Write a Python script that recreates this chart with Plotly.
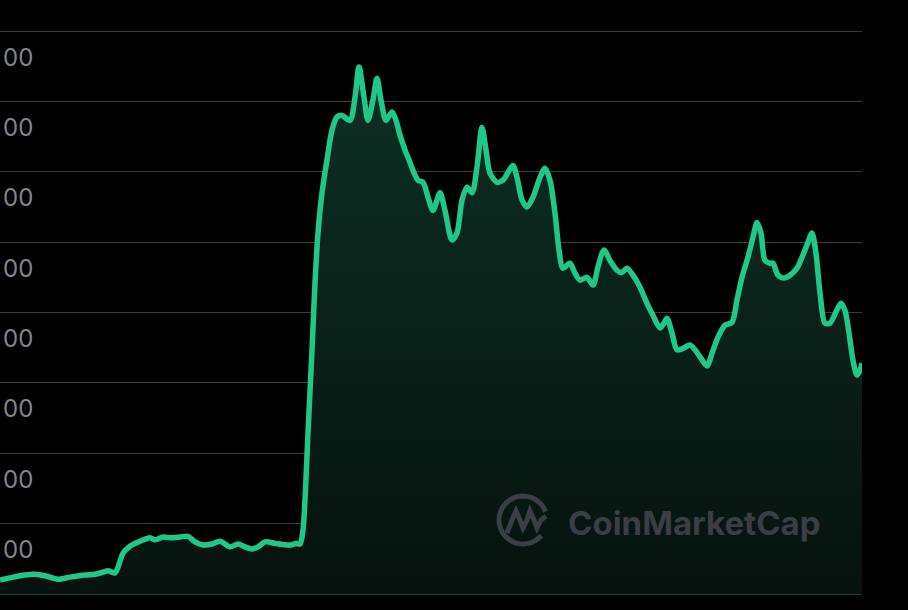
import math
import plotly.graph_objects as go

# ---- data (time index along x, price units along y) ----
t = [0, 10, 25, 35, 45, 58, 70, 85, 95, 103, 108, 115, 118, 123, 130, 140, 150, 155, 163, 170,
     180, 188, 195, 202, 212, 220, 230, 238, 245, 252, 258, 265, 275, 285, 292, 296, 300, 303, 305, 308,
     312, 315, 318, 322, 327, 332, 337, 342, 350, 355, 359, 364, 368, 373, 377, 381, 386, 392, 396, 400,
     405, 409, 413, 418, 423, 428, 433, 440, 445, 452, 457, 462, 467, 472, 477, 482, 486, 490, 497, 503,
     508, 513, 517, 522, 527, 533, 540, 545, 550, 555, 559, 563, 570, 575, 580, 587, 593, 598, 604, 610,
     617, 622, 627, 633, 640, 647, 653, 660, 664, 667, 672, 677, 683, 690, 695, 701, 707, 712, 718, 725,
     732, 737, 742, 748, 753, 757, 761, 765, 770, 773, 778, 784, 790, 797, 803, 808, 812, 816, 820, 825,
     830, 836, 841, 845, 849, 853, 857, 860, 862]
price = [20, 23, 27, 28, 26, 21, 24, 27, 28, 31, 33, 30, 38, 58, 68, 75, 80, 77, 81, 80,
         81, 82, 74, 70, 71, 75, 67, 71, 67, 64, 67, 74, 72, 70, 70, 72, 71, 91, 134, 229,
         347, 442, 513, 570, 617, 659, 678, 680, 673, 706, 749, 706, 673, 702, 733, 702, 673, 685, 673, 652,
         631, 617, 602, 588, 585, 564, 545, 570, 545, 503, 513, 560, 578, 570, 607, 663, 631, 598, 585, 588,
         599, 609, 592, 560, 550, 564, 592, 605, 588, 541, 489, 463, 470, 456, 446, 450, 439, 465, 489, 474,
         460, 457, 463, 453, 436, 413, 396, 378, 385, 392, 371, 347, 349, 354, 347, 335, 324, 342, 365, 382,
         386, 418, 450, 479, 507, 528, 513, 474, 470, 470, 453, 449, 453, 463, 482, 500, 513, 484, 428, 385,
         385, 401, 413, 403, 371, 332, 311, 318, 328]
grid_vals = [0, 100, 200, 300, 400, 500, 600, 700, 800]
tick_vals = [100, 200, 300, 400, 500, 600, 700, 800]
tick_text = ["00", "00", "00", "00", "00", "00", "00", "00"]  # visible part of the cropped labels

W, H = 908, 610
LINE = "#1fc886"
GRID = "#383b42"
LABEL = "#80858f"
MARK = "#3a3e45"

fig = go.Figure()
fig.add_trace(go.Scatter(
    x=t, y=price, mode="lines",
    line=dict(color=LINE, width=5.5, shape="spline", smoothing=0.8),
    fill="tozeroy",
    fillgradient=dict(type="vertical", start=0, stop=760,
                      colorscale=[[0, "rgba(6,18,14,1)"], [1, "rgba(13,48,36,1)"]]),
    hoverinfo="skip", showlegend=False,
))

annotations = []
for v, s in zip(tick_vals, tick_text):
    annotations.append(dict(
        x=1 / W, xref="paper", xanchor="left",
        y=v, yref="y", yanchor="middle", yshift=-26,
        text=s, showarrow=False,
        font=dict(family="Inter", size=24, color=LABEL),
    ))

# watermark text
annotations.append(dict(
    x=566 / W, xref="paper", xanchor="left",
    y=(H - 523) / H, yref="paper", yanchor="middle",
    text="<b>CoinMarketCap</b>", showarrow=False,
    font=dict(family="Inter", size=33, color=MARK),
))

# watermark logo (decorative)
def P(px, py):
    return f"{px / W:.5f},{(H - py) / H:.5f}"

cx, cy, r = 523, 520, 24
pts = []
for k in range(0, 301, 10):
    a = math.radians(-40 - k)
    pts.append((cx + r * math.cos(a), cy - r * math.sin(a)))
arc = "M " + " L ".join(P(x, y) for x, y in pts)
zig = "M " + " L ".join(P(x, y) for x, y in [
    (507, 533), (512, 520), (516, 511), (520, 520), (523, 528), (527, 520), (530, 511),
    (534, 520), (537, 528), (541, 520), (546, 516)])
shapes = [
    dict(type="path", xref="paper", yref="paper", path=arc,
         line=dict(color=MARK, width=5)),
    dict(type="path", xref="paper", yref="paper", path=zig,
         line=dict(color=MARK, width=5)),
]

fig.update_layout(
    width=W, height=H,
    margin=dict(l=0, r=0, t=0, b=0),
    paper_bgcolor="#000000", plot_bgcolor="#000000",
    xaxis=dict(domain=[0, 862 / W], range=[0, 862], visible=False, fixedrange=True),
    yaxis=dict(range=[-22.7, 844.05], tickvals=grid_vals, showticklabels=False,
               showgrid=True, gridcolor=GRID, gridwidth=1, zeroline=False, fixedrange=True),
    annotations=annotations,
    shapes=shapes,
    showlegend=False,
)

fig.write_html("out.html", config={"displayModeBar": False},
               post_script="document.body.style.margin='0';document.body.style.background='#000';")
